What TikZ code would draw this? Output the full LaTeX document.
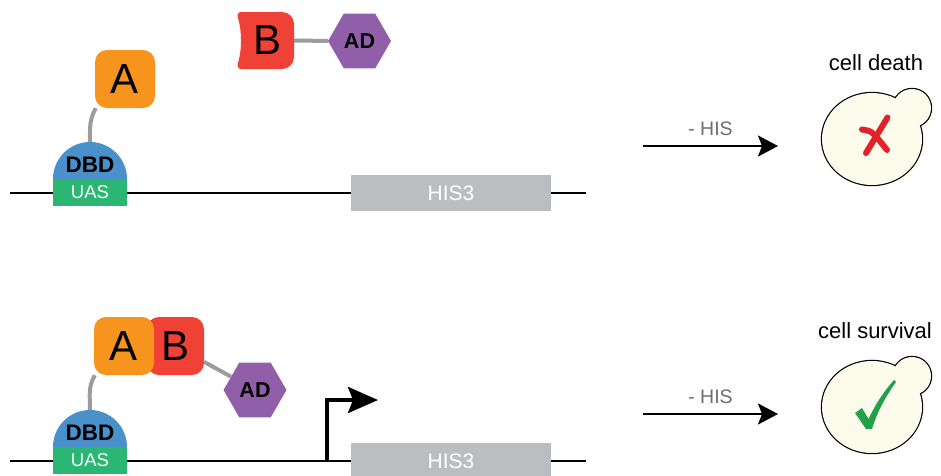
\documentclass[tikz,border=0pt]{standalone}
\usepackage{fontspec}
\setmainfont{Liberation Sans}
\usetikzlibrary{shapes.geometric,arrows.meta,backgrounds}

\definecolor{aorange}{HTML}{F7941D}
\definecolor{bred}{HTML}{EF4136}
\definecolor{dbdblue}{HTML}{4A90CB}
\definecolor{uasgreen}{HTML}{2BB673}
\definecolor{adpurple}{HTML}{915FA9}
\definecolor{hisgray}{HTML}{BCBDC0}
\definecolor{linkgray}{HTML}{9C9C9C}
\definecolor{labelgray}{HTML}{6D6E70}
\definecolor{cellcream}{HTML}{FDFBEC}
\definecolor{xred}{HTML}{E4202A}
\definecolor{okgreen}{HTML}{21A14A}

\begin{document}
\begin{tikzpicture}[x=1pt,y=-1pt,
  dna/.style={line width=2pt},
  linker/.style={line width=4pt,color=linkgray},
  protA/.style={fill=aorange,rounded corners=12pt,minimum width=60pt,minimum height=58pt,inner sep=0pt,font=\fontsize{42}{42}\selectfont},
  protB/.style={fill=bred,rounded corners=12pt,minimum width=57pt,minimum height=58pt,inner sep=0pt,font=\fontsize{42}{42}\selectfont},
  bletter/.style={minimum width=52pt,minimum height=57pt,inner sep=0pt,font=\fontsize{42}{42}\selectfont},
  adhex/.style={regular polygon,regular polygon sides=6,fill=adpurple,minimum size=63pt,inner sep=0pt,font=\bfseries\fontsize{21.5}{21.5}\selectfont},
  uasbox/.style={fill=uasgreen,minimum width=74pt,minimum height=27pt,inner sep=0pt,text=white,font=\fontsize{18.5}{18.5}\selectfont},
  dbdlabel/.style={inner sep=0pt,font=\bfseries\fontsize{22.5}{22.5}\selectfont},
  hisbox/.style={fill=hisgray,minimum width=200pt,minimum height=36pt,inner sep=0pt,text=white,font=\fontsize{21}{21}\selectfont},
  hisarrow/.style={line width=2pt,-{Stealth[length=20pt,width=21pt,inset=4pt]}},
  hislabel/.style={text=labelgray,anchor=base,inner sep=0pt,font=\fontsize{19.5}{19.5}\selectfont},
  promoter/.style={line width=4pt,-{Stealth[length=30pt,width=26pt,inset=5pt]}},
  fate/.style={anchor=base,inner sep=0pt,font=\fontsize{22}{22}\selectfont},
  rim/.style={line width=2.4pt},
]
  \useasboundingbox (0,0) rectangle (941,475);

  % no interaction: A and B apart
  \draw[dna] (10,192.5) -- (586,192.5);
  \node[hisbox] (his1) at (451,193) {HIS3};
  \fill[dbdblue] (53,179) arc[start angle=180,end angle=0,radius=37pt] -- cycle;
  \node[uasbox] (uas1) at (90,192) {UAS};
  \node[dbdlabel] (dbd1) at (90,165) {DBD};
  \coordinate (dbdtop1) at (90,142);
  \node[protA] (a1) at (125,79) {A};
  \fill[bred] (250,12) -- (282,12) arc[start angle=90,end angle=0,radius=12pt]
    -- (294,57) arc[start angle=0,end angle=-90,radius=12pt] -- (241,69)
    .. controls (238,69) and (237,66) .. (238,63)
    .. controls (242,50) and (242,31) .. (238,18)
    .. controls (237,15) and (238,12) .. (241,12) -- cycle;
  \node[bletter] (b1) at (268,40.5) {B};
  \node[adhex] (ad1) at (359.5,41) {AD};
  \begin{scope}[on background layer]
    \draw[linker] (dbdtop1) to[out=90,in=240] (a1.225);
    \draw[linker] (b1) -- (ad1);
  \end{scope}

  \coordinate (h1a) at (643,146);
  \coordinate (h1b) at (778,146);
  \draw[hisarrow] (h1a) -- (h1b);
  \node[hislabel] (hl1) at (710.5,135) {- HIS};

  \node[fate] (fate1) at (876,70) {cell death};
  \draw[rim] (872,139) ellipse[x radius=50pt,y radius=46pt];
  \draw[rim] (912,108) circle[radius=19pt];
  \fill[cellcream] (872,139) ellipse[x radius=50pt,y radius=46pt];
  \fill[cellcream] (912,108) circle[radius=19pt];
  \draw[xred,line width=6pt,line cap=round] (866,153) -- (887.5,117.5);
  \draw[xred,line width=6pt,line cap=round] (862,129.5) .. controls (872,131) .. (887,150);

  % A binds B: AD brought to the promoter
  \draw[dna] (10,460.5) -- (586,460.5);
  \node[hisbox] (his2) at (451,461) {HIS3};
  \fill[dbdblue] (53,447) arc[start angle=180,end angle=0,radius=37pt] -- cycle;
  \node[uasbox] (uas2) at (90,460) {UAS};
  \node[dbdlabel] (dbd2) at (90,433) {DBD};
  \coordinate (dbdtop2) at (90,410);
  \node[protB] (b2) at (175.5,346) {B};
  \node[protA] (a2) at (124,346) {A};
  \node[adhex] (ad2) at (255,390) {AD};
  \begin{scope}[on background layer]
    \draw[linker] (dbdtop2) to[out=90,in=240] (a2.225);
    \draw[linker] (b2) -- (ad2);
  \end{scope}
  \coordinate (tss) at (327,460.5);
  \coordinate (tssend) at (378,400);
  \draw[promoter] (tss) |- (tssend);

  \coordinate (h2a) at (643,414);
  \coordinate (h2b) at (778,414);
  \draw[hisarrow] (h2a) -- (h2b);
  \node[hislabel] (hl2) at (710.5,403) {- HIS};

  \node[fate] (fate2) at (875,338) {cell survival};
  \draw[rim] (872,407) ellipse[x radius=50pt,y radius=46pt];
  \draw[rim] (912,376) circle[radius=19pt];
  \fill[cellcream] (872,407) ellipse[x radius=50pt,y radius=46pt];
  \fill[cellcream] (912,376) circle[radius=19pt];
  \fill[okgreen] (855,413) -- (862,408) -- (868.5,419)
    .. controls (876,403) and (885,390) .. (894,380) -- (896,382)
    .. controls (886,396) and (877,412) .. (872,429) -- (866,429) -- cycle;
\end{tikzpicture}
\end{document}
